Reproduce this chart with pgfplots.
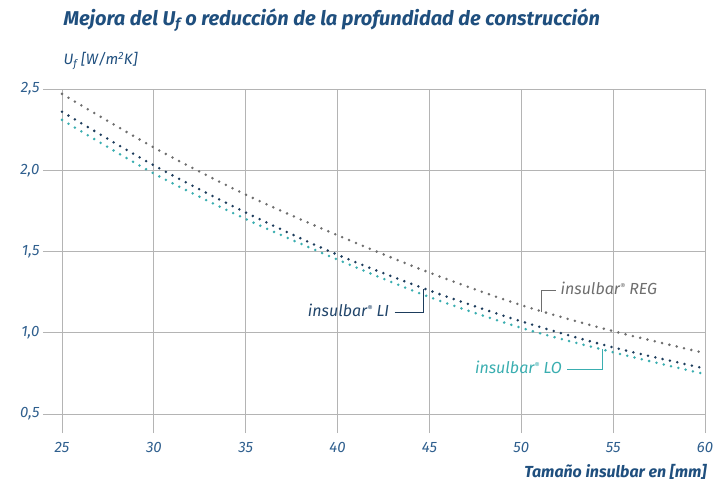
\documentclass[border=0pt]{standalone}
\usepackage{pgfplots}
\pgfplotsset{compat=1.18}
\usepackage{fontspec}
\setmainfont{Fira Sans}
\definecolor{titleblue}{HTML}{1F4F7E}
\definecolor{tickblue}{HTML}{2F5F8E}
\definecolor{gridgray}{HTML}{B4B4B4}
\definecolor{regc}{HTML}{6E6E6E}
\definecolor{lic}{HTML}{1D3C5C}
\definecolor{loc}{HTML}{3AAEB0}
\newcommand{\reg}{\raisebox{0.55ex}{\fontsize{8}{8}\selectfont ®}}
\begin{document}
\begin{tikzpicture}
\begin{axis}[
  at={(0pt,0pt)}, anchor=south west,
  width=643pt, height=325pt, scale only axis,
  xmin=25, xmax=60, ymin=0.5, ymax=2.5,
  xtick={25,30,...,60}, ytick={0.5,1.0,...,2.5},
  axis line style={draw=none},
  grid=major, major grid style={gridgray, line width=0.8pt},
  tick align=outside, major tick length=19pt,
  tick style={gridgray, line width=0.8pt},
  xtick pos=bottom, ytick pos=left,
  /pgf/number format/assume math mode=true,
  /pgf/number format/use comma,
  yticklabel style={/pgf/number format/fixed, /pgf/number format/fixed zerofill, /pgf/number format/precision=1},
  ticklabel style={font=\fontsize{15}{17}\selectfont\itshape, text=tickblue},
  xticklabel style={yshift=-6pt},
  clip=false,
]
\addplot[regc, line width=2.8pt, line cap=round, dash pattern=on 0pt off 7.5pt, smooth] coordinates {
(25,2.47) (30,2.14) (35,1.85) (40,1.60) (45,1.37) (50,1.17) (55,1.01) (60,0.875)};
\addplot[lic, line width=2.8pt, line cap=round, dash pattern=on 0pt off 7.5pt, smooth] coordinates {
(25,2.36) (30,2.03) (35,1.74) (40,1.48) (45,1.26) (50,1.07) (55,0.91) (60,0.78)};
\addplot[loc, line width=2.8pt, line cap=round, dash pattern=on 0pt off 7.5pt, smooth] coordinates {
(25,2.31) (30,1.98) (35,1.70) (40,1.45) (45,1.22) (50,1.03) (55,0.88) (60,0.745)};
% leaders and labels
\draw[lic, line width=0.9pt] (axis cs:43.1,1.128) -- (axis cs:44.7,1.128) -- (axis cs:44.7,1.27);
\node[anchor=east, text=lic!70!tickblue, font=\fontsize{16}{18}\selectfont\itshape] at (axis cs:43.0,1.14) {insulbar\reg\ LI};
\draw[regc, line width=0.9pt] (axis cs:51.1,1.13) -- (axis cs:51.1,1.263) -- (axis cs:51.9,1.263);
\node[anchor=west, text=regc, font=\fontsize{16}{18}\selectfont\itshape] at (axis cs:51.95,1.275) {insulbar\reg\ REG};
\draw[loc, line width=0.9pt] (axis cs:52.5,0.777) -- (axis cs:54.4,0.777) -- (axis cs:54.4,0.9);
\node[anchor=east, text=loc, font=\fontsize{16}{18}\selectfont\itshape] at (axis cs:52.4,0.79) {insulbar\reg\ LO};
\end{axis}
\node[anchor=west, text=titleblue, font=\fontsize{20}{23}\selectfont\bfseries\itshape] at (-2pt,394pt) {Mejora del U\textsubscript{f} o reducción de la profundidad de construcción};
\node[anchor=west, text=titleblue, font=\fontsize{15}{17}\selectfont\itshape] at (-2pt,353pt) {U\textsubscript{f} [W/m\textsuperscript{2}K]};
\node[anchor=east, text=titleblue, font=\fontsize{16}{18}\selectfont\bfseries\itshape] at (648pt,-58pt) {Tamaño insulbar en [mm]};
\pgfresetboundingbox
\path[use as bounding box] (-62pt,-74pt) rectangle (652pt,414pt);
\end{tikzpicture}
\end{document}
